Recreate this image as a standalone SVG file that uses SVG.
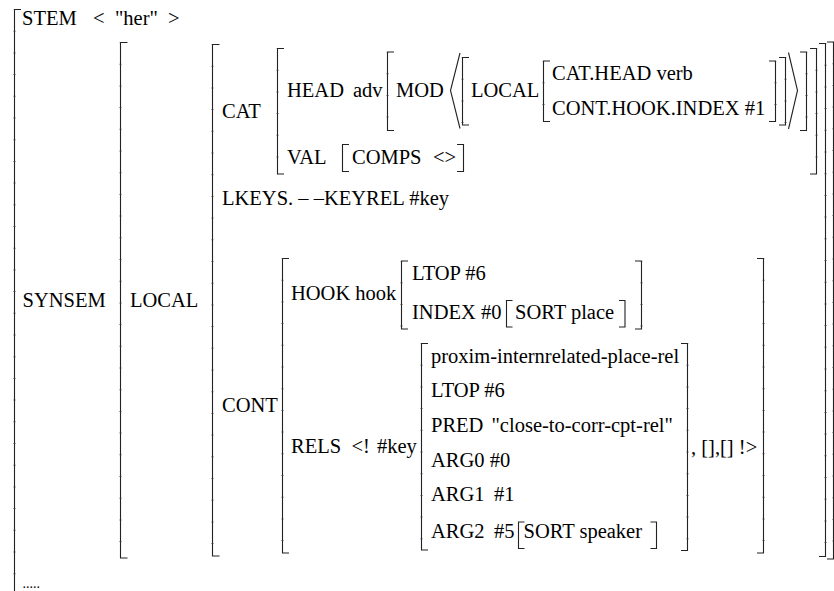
<svg xmlns="http://www.w3.org/2000/svg" width="834" height="591" viewBox="0 0 834 591" font-family="'Liberation Serif', 'Times New Roman', serif">
<style>
  text { font-family: "Liberation Serif", "Times New Roman", serif; font-size: 20.5px; fill: #000; }
  .dots { font-size: 14px; }
  .br { fill: none; stroke: #222; stroke-width: 1.1; }
  .tk { fill: none; stroke: #444; stroke-width: 2.6; stroke-dasharray: 1 20.7; stroke-dashoffset: 0.5; opacity: 0.55; }
</style>
<rect width="834" height="591" fill="#fff"/>

<!-- root AVM -->
<g id="avm-root">
  <path class="br" d="M21,9.5 H14.5 V592"/>
  <line class="tk" x1="14.5" y1="9.5" x2="14.5" y2="592"/>
  <text x="22" y="25">STEM</text>
  <text x="93" y="25">&lt;</text>
  <text x="115" y="25">"her"</text>
  <text x="168" y="25">&gt;</text>
  <text x="22.5" y="307">SYNSEM</text>
  <text class="dots" x="22.5" y="588">.....</text>
</g>

<!-- SYNSEM value -->
<g id="avm-synsem">
  <path class="br" d="M127.5,42.5 H120.5 V558 H127.5"/>
  <line class="tk" x1="120.5" y1="42.5" x2="120.5" y2="558"/>
  <path class="br" d="M827,42 H833.5 V559 H827"/>
  <line class="tk" x1="833.5" y1="42" x2="833.5" y2="559"/>
  <text x="130" y="307">LOCAL</text>
</g>

<!-- LOCAL value -->
<g id="avm-local">
  <path class="br" d="M219.5,44.5 H212.5 V556 H219.5"/>
  <line class="tk" x1="212.5" y1="44.5" x2="212.5" y2="556"/>
  <path class="br" d="M819,43.5 H825.5 V556.5 H819"/>
  <line class="tk" x1="825.5" y1="43.5" x2="825.5" y2="556.5"/>
  <text x="222" y="118">CAT</text>
  <text x="222" y="205">LKEYS. – –KEYREL #key</text>
  <text x="222" y="411.5">CONT</text>
</g>

<!-- CAT value -->
<g id="avm-cat">
  <path class="br" d="M284,48.5 H277.5 V174 H284"/>
  <line class="tk" x1="277.5" y1="48.5" x2="277.5" y2="174"/>
  <path class="br" d="M810,48.5 H816.5 V174 H810"/>
  <line class="tk" x1="816.5" y1="48.5" x2="816.5" y2="174"/>
  <text x="287" y="97">HEAD</text>
  <text x="353" y="97">adv</text>
  <text x="287" y="164">VAL</text>
</g>

<!-- HEAD adv value -->
<g id="avm-head">
  <path class="br" d="M394,52 H387.5 V130.5 H394"/>
  <line class="tk" x1="387.5" y1="52" x2="387.5" y2="130.5"/>
  <path class="br" d="M800,52 H806.5 V130.5 H800"/>
  <line class="tk" x1="806.5" y1="52" x2="806.5" y2="130.5"/>
  <text x="396" y="97">MOD</text>
  <path class="br" d="M460,53 L450.5,90.5 L460,128.5"/>
  <path class="br" d="M788.5,52.5 L797.5,90.5 L788.5,129"/>
</g>

<!-- MOD list element -->
<g id="avm-mod-elem">
  <path class="br" d="M469,57.5 H462.5 V125 H469"/>
  <line class="tk" x1="462.5" y1="57.5" x2="462.5" y2="125"/>
  <path class="br" d="M779,57.5 H785.5 V125 H779"/>
  <line class="tk" x1="785.5" y1="57.5" x2="785.5" y2="125"/>
  <text x="471" y="97">LOCAL</text>
</g>

<!-- MOD LOCAL value -->
<g id="avm-mod-local">
  <path class="br" d="M550,61 H543.5 V121.5 H550"/>
  <line class="tk" x1="543.5" y1="61" x2="543.5" y2="121.5"/>
  <path class="br" d="M769,61 H775.5 V121.5 H769"/>
  <line class="tk" x1="775.5" y1="61" x2="775.5" y2="121.5"/>
  <text x="552" y="80">CAT.HEAD verb</text>
  <text x="552" y="115">CONT.HOOK.INDEX #1</text>
</g>

<!-- VAL value -->
<g id="avm-val">
  <path class="br" d="M349,144.5 H342.5 V171.5 H349"/>
  <path class="br" d="M457,144.5 H463.5 V171.5 H457"/>
  <text x="352" y="164">COMPS</text>
  <text x="433" y="164">&lt;&gt;</text>
</g>

<!-- CONT value -->
<g id="avm-cont">
  <path class="br" d="M289,258.5 H282.5 V553 H289"/>
  <line class="tk" x1="282.5" y1="258.5" x2="282.5" y2="553"/>
  <path class="br" d="M757,258.5 H763.5 V553 H757"/>
  <line class="tk" x1="763.5" y1="258.5" x2="763.5" y2="553"/>
  <text x="291" y="300">HOOK hook</text>
  <text x="291" y="452.5">RELS</text>
  <text x="351.5" y="452.5">&lt;!</text>
  <text x="377" y="452.5">#key</text>
  <text x="691" y="454">, [],[] !&gt;</text>
</g>

<!-- HOOK value -->
<g id="avm-hook">
  <path class="br" d="M408,261 H401.5 V329 H408"/>
  <line class="tk" x1="401.5" y1="261" x2="401.5" y2="329"/>
  <path class="br" d="M635,261 H641.5 V329 H635"/>
  <line class="tk" x1="641.5" y1="261" x2="641.5" y2="329"/>
  <text x="412" y="280">LTOP #6</text>
  <text x="412" y="318.5">INDEX #0</text>
</g>

<!-- INDEX value -->
<g id="avm-index">
  <path class="br" d="M512.5,300.5 H506.5 V327 H512.5"/>
  <path class="br" d="M619,300.5 H625 V327 H619"/>
  <text x="515" y="318.5">SORT place</text>
</g>

<!-- relation -->
<g id="avm-rel">
  <path class="br" d="M428,343.5 H421.5 V550 H428"/>
  <line class="tk" x1="421.5" y1="343.5" x2="421.5" y2="550"/>
  <path class="br" d="M681,343.5 H687.5 V550.5 H681"/>
  <line class="tk" x1="687.5" y1="343.5" x2="687.5" y2="550.5"/>
  <text x="431" y="363">proxim-internrelated-place-rel</text>
  <text x="431" y="397">LTOP #6</text>
  <text x="431" y="431.5">PRED</text>
  <text x="491.5" y="431.5">"close-to-corr-cpt-rel"</text>
  <text x="431" y="466.5">ARG0 #0</text>
  <text x="431" y="500.5">ARG1</text>
  <text x="494" y="500.5">#1</text>
  <text x="431" y="538">ARG2</text>
  <text x="494" y="538">#5</text>
</g>

<!-- ARG2 value -->
<g id="avm-arg2">
  <path class="br" d="M524.5,522 H518.5 V548.5 H524.5"/>
  <path class="br" d="M650.5,522 H656.5 V548.5 H650.5"/>
  <text x="523.5" y="538">SORT speaker</text>
</g>
</svg>
